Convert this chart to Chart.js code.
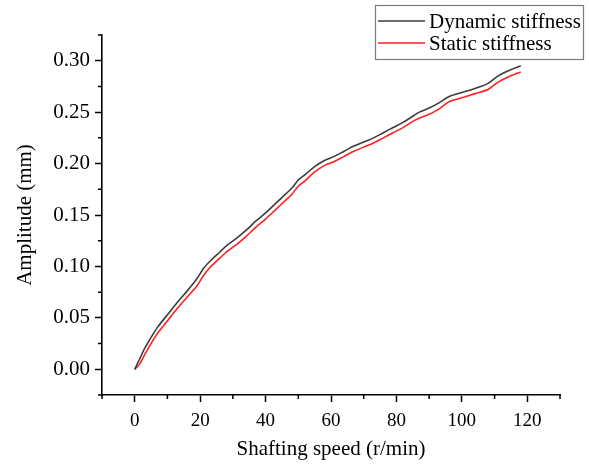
<!DOCTYPE html>
<html>
<head>
<meta charset="utf-8">
<script src="https://cdn.jsdelivr.net/npm/chart.js@4.4.1/dist/chart.umd.min.js"></script>
<style>
  html, body { margin: 0; padding: 0; background: #fff; }
  #wrap { width: 589px; height: 465px; position: relative; }
</style>
</head>
<body>
<div id="wrap"><canvas id="c"></canvas></div>
<script>
// ---- data ----
const speedDynamic = [0, 1.5, 3, 5, 7, 10, 13, 16, 19, 21, 23, 26, 28, 31, 34, 37, 40, 43, 46, 48, 50, 52, 55, 58, 61, 64, 67, 70, 73, 76, 79, 82, 85, 87, 90, 93, 96, 100, 104, 108, 111, 114, 118];
const dynamicStiffness = [0.000, 0.010, 0.020, 0.031, 0.041, 0.053, 0.065, 0.076, 0.088, 0.098, 0.105, 0.114, 0.120, 0.127, 0.135, 0.144, 0.152, 0.161, 0.170, 0.176, 0.184, 0.189, 0.197, 0.203, 0.207, 0.212, 0.217, 0.221, 0.225, 0.230, 0.235, 0.240, 0.246, 0.250, 0.254, 0.259, 0.265, 0.269, 0.273, 0.278, 0.285, 0.290, 0.295];
const speedStatic = [0, 1.5, 3, 5, 7, 10, 13, 16, 19, 21, 23, 26, 28, 31, 34, 37, 40, 43, 46, 48, 50, 52, 55, 58, 61, 64, 67, 70, 73, 76, 79, 82, 85, 87, 90, 93, 96, 100, 104, 108, 111, 114, 118];
const staticStiffness = [0.000, 0.005, 0.014, 0.025, 0.035, 0.047, 0.059, 0.070, 0.081, 0.091, 0.099, 0.108, 0.114, 0.121, 0.129, 0.138, 0.146, 0.155, 0.164, 0.170, 0.178, 0.183, 0.192, 0.198, 0.202, 0.207, 0.212, 0.216, 0.220, 0.225, 0.230, 0.235, 0.241, 0.244, 0.248, 0.253, 0.260, 0.264, 0.268, 0.272, 0.279, 0.284, 0.289];
const seriesLabels = ['Dynamic stiffness', 'Static stiffness'];
const xTicks = [0, 20, 40, 60, 80, 100, 120];
const xMinorTicks = [-10, 10, 30, 50, 70, 90, 110, 130];
const yTicks = [0.00, 0.05, 0.10, 0.15, 0.20, 0.25, 0.30];
const yMinorTicks = [-0.025, 0.025, 0.075, 0.125, 0.175, 0.225, 0.275, 0.325];
const xTitle = 'Shafting speed (r/min)';
const yTitle = 'Amplitude (mm)';

const SERIF = '"Liberation Serif", "DejaVu Serif", serif';
const colors = ['#3c3c3c', '#ff2020'];

const toXY = (xs, ys) => xs.map((x, i) => ({x: x, y: ys[i]}));

const minorTickPlugin = {
  id: 'minorTicks',
  afterDraw(chart) {
    const ctx = chart.ctx;
    const xs = chart.scales.x, ys = chart.scales.y;
    ctx.save();
    ctx.strokeStyle = '#000';
    ctx.lineWidth = 1.5;
    ctx.beginPath();
    xMinorTicks.forEach(v => {
      const px = xs.getPixelForValue(v);
      ctx.moveTo(px, xs.top);
      ctx.lineTo(px, xs.top + 4);
    });
    yMinorTicks.forEach(v => {
      const py = ys.getPixelForValue(v);
      ctx.moveTo(ys.right, py);
      ctx.lineTo(ys.right - 4, py);
    });
    ctx.stroke();
    ctx.restore();
  }
};

const boxLegendPlugin = {
  id: 'boxLegend',
  afterDraw(chart) {
    const ctx = chart.ctx;
    const left = 375, top = 5, right = 583, bottom = 59;
    ctx.save();
    ctx.strokeStyle = '#7a7a7a';
    ctx.lineWidth = 1.2;
    ctx.strokeRect(left + 0.5, top + 0.5, right - left, bottom - top);
    ctx.font = '21px ' + SERIF;
    ctx.textBaseline = 'middle';
    ctx.textAlign = 'left';
    chart.data.datasets.forEach((ds, i) => {
      const cy = 21 + i * 22;
      ctx.strokeStyle = ds.borderColor;
      ctx.lineWidth = 1.5;
      ctx.beginPath();
      ctx.moveTo(378, cy);
      ctx.lineTo(425, cy);
      ctx.stroke();
      ctx.fillStyle = '#000';
      ctx.fillText(ds.label, 429, cy + 1);
    });
    ctx.restore();
  }
};

new Chart(document.getElementById('c'), {
  type: 'line',
  data: {
    datasets: [
      { label: seriesLabels[0], data: toXY(speedDynamic, dynamicStiffness), borderColor: colors[0], borderWidth: 1.6, pointRadius: 0, tension: 0.3, fill: false },
      { label: seriesLabels[1], data: toXY(speedStatic, staticStiffness), borderColor: colors[1], borderWidth: 1.6, pointRadius: 0, tension: 0.3, fill: false }
    ]
  },
  options: {
    responsive: true,
    maintainAspectRatio: false,
    animation: false,
    layout: { padding: { left: 0, right: 29, top: 35, bottom: 0 } },
    plugins: { legend: { display: false }, tooltip: { enabled: false } },
    scales: {
      x: {
        type: 'linear',
        min: -10, max: 130,
        afterFit(s) { s.height = 70; },
        afterBuildTicks(s) { s.ticks = xTicks.map(v => ({value: v})); },
        border: { display: true, color: '#000', width: 1.6 },
        grid: { display: true, drawOnChartArea: false, drawTicks: true, tickLength: 7, tickColor: '#000', tickWidth: 1.5 },
        ticks: { color: '#000', font: { family: SERIF, size: 19 }, padding: 8, maxRotation: 0, callback: v => String(v) },
        title: { display: true, text: xTitle, color: '#000', font: { family: SERIF, size: 21 }, padding: { top: 0, bottom: 3 } }
      },
      y: {
        type: 'linear',
        min: -0.025, max: 0.325,
        afterFit(s) { s.width = 102; },
        afterBuildTicks(s) { s.ticks = yTicks.map(v => ({value: v})); },
        border: { display: true, color: '#000', width: 1.6 },
        grid: { display: true, drawOnChartArea: false, drawTicks: true, tickLength: 7, tickColor: '#000', tickWidth: 1.5 },
        ticks: { color: '#000', font: { family: SERIF, size: 21 }, padding: 5, callback: v => Number(v).toFixed(2) },
        title: { display: true, text: yTitle, color: '#000', font: { family: SERIF, size: 21 }, padding: { top: 13, bottom: 0 } }
      }
    }
  },
  plugins: [minorTickPlugin, boxLegendPlugin]
});
</script>
</body>
</html>
